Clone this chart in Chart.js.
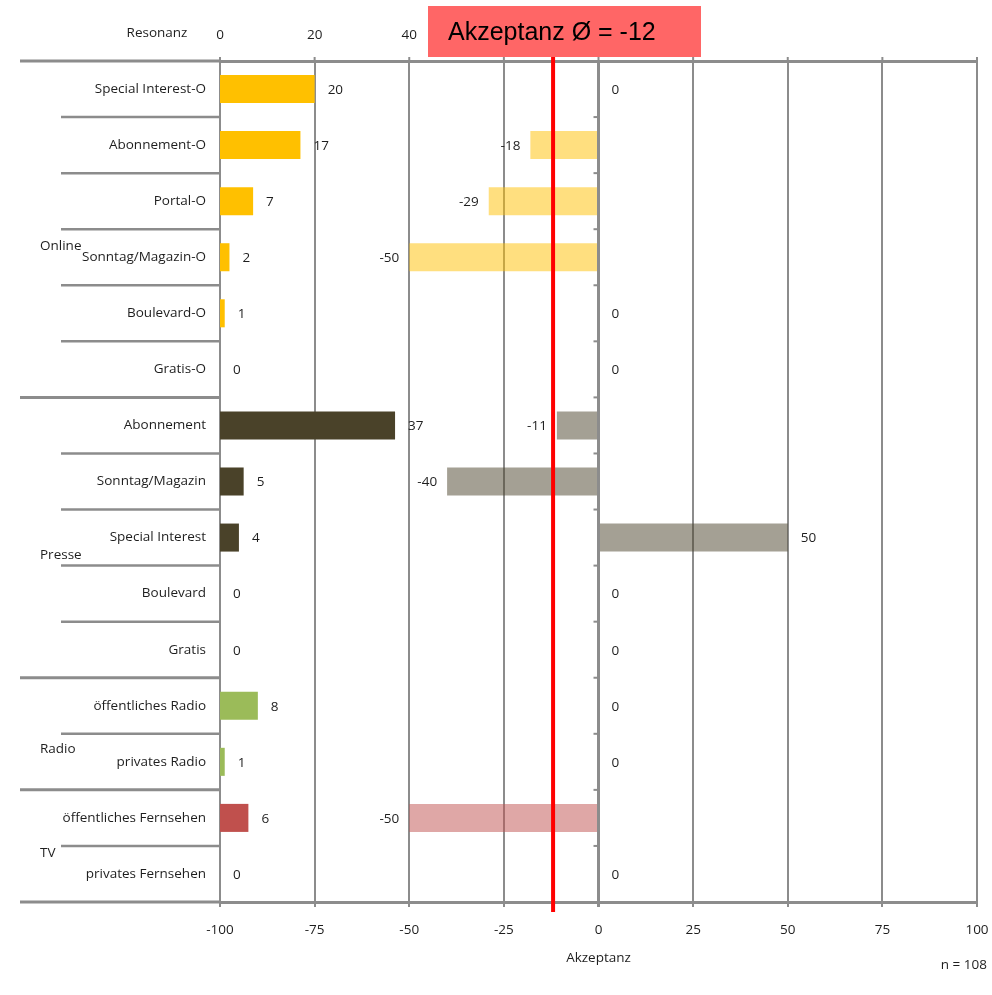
<!DOCTYPE html>
<html>
<head>
<meta charset="utf-8">
<title>Resonanz und Akzeptanz nach Medientyp</title>
<script src="https://cdn.jsdelivr.net/npm/chart.js@4/dist/chart.umd.min.js"></script>
<style>
  html, body { margin: 0; padding: 0; background: #fff; }
  #wrap { width: 992px; height: 995px; position: relative; }
</style>
</head>
<body>
<div id="wrap"><canvas id="c" width="992" height="995"></canvas></div>
<script>
// ---- data ----
const categories = [
  'Special Interest-O', 'Abonnement-O', 'Portal-O', 'Sonntag/Magazin-O', 'Boulevard-O', 'Gratis-O',
  'Abonnement', 'Sonntag/Magazin', 'Special Interest', 'Boulevard', 'Gratis',
  'öffentliches Radio', 'privates Radio',
  'öffentliches Fernsehen', 'privates Fernsehen'
];
const groupNames = ['Online', 'Presse', 'Radio', 'TV'];
const groupSizes = [6, 5, 2, 2];
const resonanz  = [20, 17, 7, 2, 1, 0, 37, 5, 4, 0, 0, 8, 1, 6, 0];
const akzeptanz = [0, -18, -29, -50, 0, 0, -11, -40, 50, 0, 0, 0, 0, -50, 0];
const akzeptanzMittel = -12;
const resonanzTicks = [0, 20, 40];
const akzeptanzTicks = [-100, -75, -50, -25, 0, 25, 50, 75, 100];
const stichprobe = 108;

// ---- styles ----
const groupColors = ['#FFC000', '#4A4229', '#9BBB59', '#C0504D'];
const lineGray = '#8c8c8c';
const textColor = '#1e1e1e';
const FONT = '"Open Sans", "Noto Sans", sans-serif';
const FS = 13.5;

Chart.defaults.font.family = FONT;
Chart.defaults.font.size = FS;
Chart.defaults.color = textColor;

// group index for every row
const rowGroup = [];
groupSizes.forEach((n, g) => { for (let i = 0; i < n; i++) rowGroup.push(g); });

function withAlpha(hex, a) {
  const n = parseInt(hex.slice(1), 16);
  return `rgba(${(n >> 16) & 255}, ${(n >> 8) & 255}, ${n & 255}, ${a})`;
}

// pixel position of the boundary above row i (i = 0..n)
function rowBoundary(yScale, chart, i) {
  const n = categories.length;
  if (i === 0) return chart.chartArea.top;
  if (i === n) return chart.chartArea.bottom;
  return (yScale.getPixelForValue(i - 1) + yScale.getPixelForValue(i)) / 2;
}

// horizontal axes: fixed band height, no extra side padding for edge labels
function fitHorizontal(height) {
  return s => { s.height = height; s.paddingLeft = 0; s.paddingRight = 0; };
}

const decor = {
  id: 'decor',
  beforeDraw(chart) {
    const ctx = chart.ctx;
    ctx.save();
    ctx.fillStyle = '#fff';
    ctx.fillRect(0, 0, chart.width, chart.height);
    ctx.restore();
  },
  afterDatasetsDraw(chart) {
    const { ctx, chartArea } = chart;
    const y = chart.scales.y, x = chart.scales.x;
    ctx.save();

    // value labels next to the bars
    ctx.font = `${FS}px ${FONT}`;
    ctx.fillStyle = textColor;
    ctx.textBaseline = 'middle';
    chart.data.datasets.forEach((ds, di) => {
      chart.getDatasetMeta(di).data.forEach((bar, j) => {
        const v = ds.data[j];
        if (v < 0) { ctx.textAlign = 'right'; ctx.fillText(String(v), bar.x - 10, bar.y + 1); }
        else { ctx.textAlign = 'left'; ctx.fillText(String(v), bar.x + 13, bar.y + 1); }
      });
    });

    // row separators in the category area (longer at group boundaries)
    const groupStarts = new Set([0]);
    let acc = 0;
    groupSizes.forEach(n => { acc += n; groupStarts.add(acc); });
    ctx.strokeStyle = lineGray;
    for (let i = 0; i <= categories.length; i++) {
      const yy = rowBoundary(y, chart, i);
      const isGroup = groupStarts.has(i);
      ctx.lineWidth = isGroup ? 3 : 2.5;
      ctx.beginPath();
      ctx.moveTo(isGroup ? 20 : 61, yy);
      ctx.lineTo(chartArea.left, yy);
      ctx.stroke();
    }

    // small ticks on the Akzeptanz zero line at row boundaries
    const x0 = x.getPixelForValue(0);
    ctx.lineWidth = 2;
    for (let i = 1; i < categories.length; i++) {
      const yy = rowBoundary(y, chart, i);
      ctx.beginPath();
      ctx.moveTo(x0 - 5, yy);
      ctx.lineTo(x0, yy);
      ctx.stroke();
    }

    // short tick marks above the top frame line
    akzeptanzTicks.forEach(v => {
      const xx = x.getPixelForValue(v);
      ctx.beginPath();
      ctx.moveTo(xx, chartArea.top - 4);
      ctx.lineTo(xx, chartArea.top);
      ctx.stroke();
    });

    // group labels
    const groupShift = [17, 18, 15, 7];
    ctx.fillStyle = textColor;
    ctx.textAlign = 'left';
    ctx.font = `${FS}px ${FONT}`;
    let start = 0;
    groupNames.forEach((name, g) => {
      const end = start + groupSizes[g];
      const mid = (rowBoundary(y, chart, start) + rowBoundary(y, chart, end)) / 2;
      ctx.fillText(name, 40, mid + groupShift[g]);
      start = end;
    });

    // axis caption for Resonanz and sample size
    ctx.textAlign = 'center';
    ctx.fillText('Resonanz', 157, 33);
    ctx.textAlign = 'right';
    ctx.fillText(`n = ${stichprobe}`, 987, 965);

    // mean acceptance line
    const xm = x.getPixelForValue(akzeptanzMittel);
    ctx.strokeStyle = '#ff0000';
    ctx.lineWidth = 4;
    ctx.beginPath();
    ctx.moveTo(xm, chartArea.top - 10);
    ctx.lineTo(xm, chartArea.bottom + 10);
    ctx.stroke();

    // mean acceptance caption box
    ctx.fillStyle = '#FF6666';
    ctx.fillRect(428, 6, 273, 51);
    ctx.fillStyle = '#000';
    ctx.font = '25px "Liberation Sans", Arial, sans-serif';
    ctx.textAlign = 'left';
    ctx.textBaseline = 'middle';
    ctx.fillText(`Akzeptanz Ø = ${akzeptanzMittel}`, 448, 33);

    ctx.restore();
  }
};

new Chart(document.getElementById('c'), {
  type: 'bar',
  data: {
    labels: categories,
    datasets: [
      {
        label: 'Akzeptanz',
        data: akzeptanz,
        xAxisID: 'x',
        yAxisID: 'y',
        backgroundColor: rowGroup.map(g => withAlpha(groupColors[g], 0.5)),
        borderWidth: 0,
        grouped: false,
        categoryPercentage: 1,
        barPercentage: 0.5
      },
      {
        label: 'Resonanz',
        data: resonanz,
        xAxisID: 'xr',
        yAxisID: 'y',
        backgroundColor: rowGroup.map(g => groupColors[g]),
        borderWidth: 0,
        grouped: false,
        categoryPercentage: 1,
        barPercentage: 0.5
      }
    ]
  },
  options: {
    indexAxis: 'y',
    responsive: false,
    animation: false,
    devicePixelRatio: 1,
    layout: { padding: { left: 0, right: 15, top: 0, bottom: 0 } },
    plugins: {
      legend: { display: false },
      tooltip: { enabled: false }
    },
    scales: {
      y: {
        type: 'category',
        position: 'left',
        offset: true,
        grid: { display: false, drawTicks: false },
        border: { display: false },
        ticks: { padding: 14, autoSkip: false, color: textColor },
        afterFit: s => { s.width = 220; s.paddingTop = 0; s.paddingBottom = 0; }
      },
      x: {
        type: 'linear',
        position: 'bottom',
        min: -100,
        max: 100,
        afterBuildTicks: s => { s.ticks = akzeptanzTicks.map(v => ({ value: v })); },
        grid: {
          color: lineGray,
          lineWidth: c => (c.tick && c.tick.value === 0 ? 3 : 2),
          drawTicks: true,
          tickLength: 5
        },
        border: { display: true, color: lineGray, width: 3 },
        ticks: { padding: 15, color: textColor, maxRotation: 0 },
        title: { display: true, text: 'Akzeptanz', color: textColor, padding: { top: 0, bottom: 29 } },
        afterFit: fitHorizontal(93)
      },
      xr: {
        type: 'linear',
        position: 'top',
        min: 0,
        max: 160,
        afterBuildTicks: s => { s.ticks = resonanzTicks.map(v => ({ value: v })); },
        grid: { display: false, drawTicks: false },
        border: { display: true, color: lineGray, width: 3 },
        ticks: { padding: 18, color: textColor, maxRotation: 0 },
        afterFit: fitHorizontal(61)
      }
    }
  },
  plugins: [decor]
});
</script>
</body>
</html>
